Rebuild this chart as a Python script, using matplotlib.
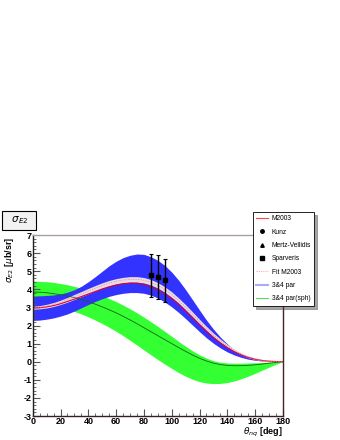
import numpy as np
import matplotlib.pyplot as plt
from matplotlib.ticker import MultipleLocator

plt.rcParams['font.family'] = ['Liberation Sans', 'DejaVu Sans']
plt.rcParams['axes.unicode_minus'] = False

# angle grid (deg) for the model curves
theta = [0, 5, 10, 15, 20, 25, 30, 35, 40, 45, 50, 55, 60, 65, 70, 75, 80, 85, 90,
         95, 100, 105, 110, 115, 120, 125, 130, 135, 140, 145, 150, 155, 160, 165, 170, 175, 180]

# 3&4 par band (blue)
blue_hi = [3.63, 3.64, 3.66, 3.69, 3.74, 3.84, 3.98, 4.17, 4.42, 4.7, 5.0, 5.3, 5.55, 5.75, 5.88, 5.95, 5.93, 5.8, 5.6,
           5.32, 4.95, 4.5, 3.98, 3.42, 2.85, 2.3, 1.8, 1.36, 0.98, 0.66, 0.42, 0.26, 0.14, 0.07, 0.03, 0.01, 0.0]
blue_lo = [2.28, 2.3, 2.35, 2.42, 2.52, 2.64, 2.8, 2.98, 3.16, 3.33, 3.48, 3.61, 3.71, 3.78, 3.82, 3.82, 3.78, 3.68, 3.52,
           3.3, 3.03, 2.72, 2.38, 2.02, 1.66, 1.32, 1.02, 0.76, 0.54, 0.37, 0.24, 0.14, 0.08, 0.04, 0.02, 0.01, 0.0]

# M2003 (red) and Fit M2003 (pink, with light error band)
m2003 = [2.96, 2.98, 3.03, 3.1, 3.2, 3.33, 3.46, 3.6, 3.74, 3.88, 4.02, 4.14, 4.24, 4.31, 4.34, 4.33, 4.27, 4.15, 3.98,
         3.75, 3.48, 3.16, 2.8, 2.42, 2.04, 1.68, 1.34, 1.04, 0.78, 0.56, 0.38, 0.24, 0.14, 0.07, 0.03, 0.01, 0.0]
fit = [2.98, 3.01, 3.07, 3.16, 3.28, 3.42, 3.58, 3.74, 3.9, 4.06, 4.21, 4.34, 4.44, 4.51, 4.55, 4.55, 4.5, 4.39, 4.22,
       3.99, 3.71, 3.38, 3.01, 2.62, 2.22, 1.84, 1.48, 1.16, 0.87, 0.63, 0.43, 0.27, 0.16, 0.08, 0.03, 0.01, 0.0]
fit_err = [0.08, 0.09, 0.1, 0.11, 0.12, 0.13, 0.14, 0.14, 0.15, 0.15, 0.15, 0.15, 0.15, 0.15, 0.15, 0.15, 0.15, 0.15, 0.15,
           0.15, 0.15, 0.14, 0.14, 0.13, 0.12, 0.11, 0.1, 0.09, 0.08, 0.07, 0.06, 0.05, 0.04, 0.03, 0.02, 0.01, 0.0]

# 3&4 par(sph) band (green) and its central curve
green_hi = [4.45, 4.44, 4.42, 4.38, 4.32, 4.25, 4.16, 4.06, 3.94, 3.8, 3.65, 3.49, 3.32, 3.13, 2.92, 2.7, 2.46, 2.21, 1.95,
            1.68, 1.4, 1.12, 0.85, 0.6, 0.38, 0.2, 0.06, -0.03, -0.07, -0.08, -0.08, -0.07, -0.06, -0.04, -0.03, -0.01, 0.0]
green_lo = [3.2, 3.18, 3.14, 3.08, 3.0, 2.9, 2.78, 2.64, 2.48, 2.3, 2.11, 1.9, 1.68, 1.44, 1.18, 0.92, 0.65, 0.38, 0.12,
            -0.13, -0.37, -0.6, -0.8, -0.97, -1.1, -1.18, -1.21, -1.2, -1.15, -1.06, -0.94, -0.8, -0.64, -0.47, -0.3, -0.14, 0.0]
green_c = [3.85, 3.84, 3.81, 3.76, 3.7, 3.63, 3.54, 3.44, 3.32, 3.18, 3.03, 2.87, 2.7, 2.51, 2.31, 2.1, 1.88, 1.66, 1.44,
           1.22, 1.0, 0.78, 0.57, 0.37, 0.19, 0.04, -0.08, -0.16, -0.2, -0.22, -0.22, -0.2, -0.17, -0.13, -0.08, -0.04, 0.0]

# Sparveris data points
pt_theta = [85, 90, 95]
pt_val = [4.78, 4.68, 4.5]
pt_err = [1.18, 1.2, 1.18]

fig = plt.figure(figsize=(3.4, 4.4), dpi=100)
ax = fig.add_axes([0.0962, 0.0545, 0.736, 0.4114])

ax.fill_between(theta, green_lo, green_hi, color='#33ff33', lw=0)
ax.plot(theta, green_c, color='#116611', lw=0.6)
ax.fill_between(theta, blue_lo, blue_hi, color='#3333ff', lw=0)
ax.fill_between(theta, np.array(fit) - np.array(fit_err), np.array(fit) + np.array(fit_err),
                color='#e6dde6', lw=0)
ax.plot(theta, m2003, color='#dd0033', lw=0.8)
ax.plot(theta, fit, color='#ff8888', lw=0.6, ls=(0, (1.5, 1.5)))
ax.errorbar(pt_theta, pt_val, yerr=pt_err, fmt='s', color='black', ms=3.5,
            elinewidth=1.0, capsize=1.5, capthick=0.8)

ax.set_xlim(0, 180)
ax.set_ylim(-3, 7)
ax.xaxis.set_major_locator(MultipleLocator(20))
ax.xaxis.set_minor_locator(MultipleLocator(5))
ax.yaxis.set_major_locator(MultipleLocator(1))
ax.yaxis.set_minor_locator(MultipleLocator(0.2))
ax.tick_params(which='both', direction='in', top=False, right=False,
               labelsize=6.5, pad=1.0, color='#555555')
ax.tick_params(which='major', length=5)
ax.tick_params(which='minor', length=2.5)
for lab in ax.get_xticklabels() + ax.get_yticklabels():
    lab.set_fontweight('bold')
ax.spines['top'].set_color('#aaa0a0')
ax.spines['right'].set_color('#442222')
ax.spines['left'].set_color('#222222')
ax.spines['bottom'].set_color('#332222')
for s in ax.spines.values():
    s.set_linewidth(1.0)

fig.text(0.832, 0.003, r'$\theta_{nq}$ [deg]', ha='right', va='bottom',
         fontsize=6.5, fontweight='bold')
fig.text(0.028, 0.462, r'$\sigma_{E2}$ [$\mu$b/sr]', ha='center', va='top',
         rotation=90, fontsize=6.5, fontweight='bold')

# title box
fig.text(0.056, 0.499, r'  $\sigma_{E2}$  ', ha='center', va='center', fontsize=7.5,
         bbox=dict(boxstyle='square,pad=0.35', fc='#f2f2f2', ec='black', lw=0.8))

# legend
h = []
h += ax.plot([], [], color='#ff4444', lw=0.8, label='M2003')
h += ax.plot([], [], 'o', color='black', ms=2.5, label='Kunz')
h += ax.plot([], [], '^', color='black', ms=2.5, label='Mertz-Vellidis')
h += ax.plot([], [], 's', color='black', ms=2.5, label='Sparveris')
h += ax.plot([], [], color='#ffaaaa', lw=0.8, ls=(0, (1, 1)), label='Fit M2003')
h += ax.plot([], [], color='#aaaaff', lw=1.5, label='3&4 par')
h += ax.plot([], [], color='#55dd55', lw=0.8, label='3&4 par(sph)')
leg = fig.legend(handles=h, loc='upper left', bbox_to_anchor=(0.744, 0.518),
                 fontsize=4.8, frameon=True, fancybox=False, shadow=True,
                 edgecolor='black', facecolor='white', framealpha=1,
                 handlelength=1.8, handletextpad=0.5, labelspacing=0.95,
                 borderpad=0.5, borderaxespad=0)
leg.get_frame().set_linewidth(0.6)

fig.savefig('out.png', dpi=100)
